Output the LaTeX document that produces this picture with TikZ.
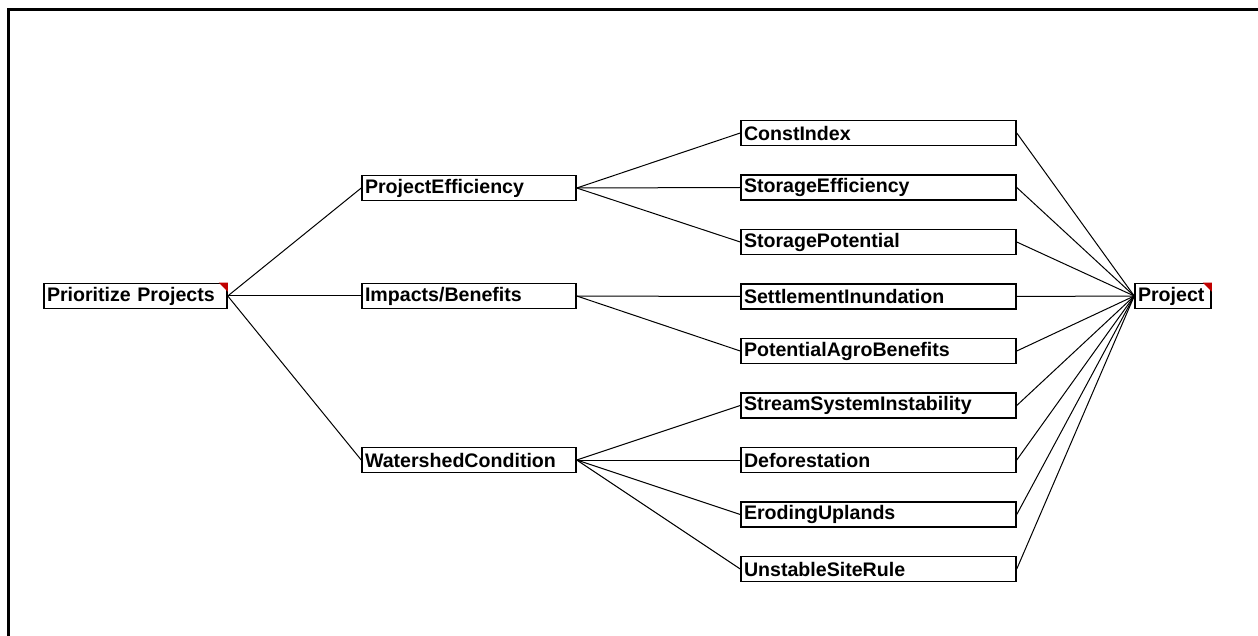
\documentclass[tikz,border=0pt]{standalone}
\usepackage{fontspec}
\setmainfont{Liberation Sans}
\usetikzlibrary{calc}
\definecolor{flagred}{RGB}{192,0,0}

\tikzset{
	box/.style={draw, rectangle, line width=0.75pt, inner xsep=1.5pt, inner ysep=0pt, minimum height=12.5pt, align=left, font=\fontsize{9.8}{11}\selectfont\bfseries},
	link/.style={line width=0.5pt}
}

\begin{document}
\begin{tikzpicture}[x=0.5pt, y=-0.5pt]
		\useasboundingbox (0,0) rectangle (1258,636);
		
		% Frame
		\draw[line width=1.5pt] (8.5,636) -- (8.5,9.5) -- (1258,9.5);
		
		% Root and target boxes
		\node[box, text width=88.5pt] (prio) at (135.5,296) {Prioritize Projects};
		\node[box, text width=35pt] (proj) at (1173,296) {Project};
		
		% Group boxes
		\node[box, text width=104pt] (eff) at (469,188) {ProjectEfficiency};
		\node[box, text width=104pt] (imp) at (469,296) {Impacts/Benefits};
		\node[box, text width=104pt] (wat) at (469,460) {WatershedCondition};
		
		% Factor boxes
		\foreach \n/\t [count=\i from 0] in {ci/ConstIndex, se/StorageEfficiency, sp/StoragePotential, si/SettlementInundation, pa/PotentialAgroBenefits, ss/StreamSystemInstability, de/Deforestation, eu/ErodingUplands, us/UnstableSiteRule} {
			\node[box, text width=134.5pt] (\n) at (878.5,133+\i*54.5) {\t};
		}
		
		% Links root -> groups
		\foreach \g in {eff,imp,wat}
			\draw[link] (prio.east) -- (\g.west);
		
		% Links groups -> factors
		\foreach \f in {ci,se,sp}
			\draw[link] (eff.east) -- (\f.west);
		\foreach \f in {si,pa}
			\draw[link] (imp.east) -- (\f.west);
		\foreach \f in {ss,de,eu,us}
			\draw[link] (wat.east) -- (\f.west);
		
		% Links factors -> project
		\foreach \f in {ci,se,sp,si,pa,ss,de,eu,us}
			\draw[link] (\f.east) -- (proj.west);
		
		% Red corner flags
		\foreach \n in {prio,proj}
			\fill[flagred] (\n.north east) -- ($(\n.north east)+(-9,0)$) -- ($(\n.north east)+(0,9)$) -- cycle;
	\end{tikzpicture}
\end{document}
